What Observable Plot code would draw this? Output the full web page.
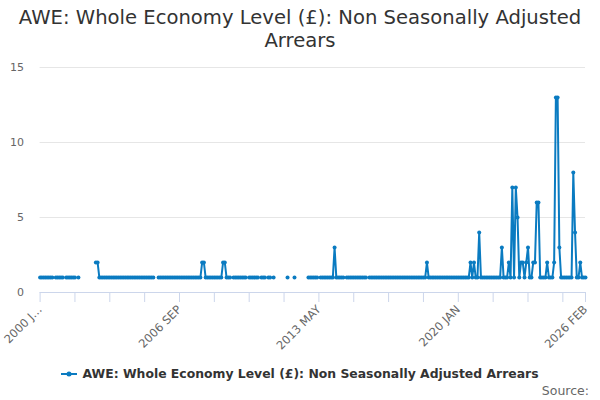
<!DOCTYPE html>
<html>
<head>
<meta charset="utf-8">
<script src="https://cdn.jsdelivr.net/npm/d3@7"></script>
<script src="https://cdn.jsdelivr.net/npm/@observablehq/plot@0.6"></script>
<style>
  body { margin: 0; background: #fff; }
  #wrap { position: relative; width: 600px; height: 400px; font-family: "DejaVu Sans", sans-serif; overflow: hidden; }
  #title { position: absolute; top: 6px; left: 0; width: 600px; text-align: center; font-size: 19.6px; line-height: 23px; color: #333; white-space: nowrap; }
  #chart { position: absolute; top: 58px; left: 0; }
  #legend { position: absolute; top: 366px; left: 0; width: 600px; display: flex; justify-content: center; align-items: center; font-size: 12.4px; font-weight: bold; color: #333; }
  #legend svg { margin-right: 5px; }
  #source { position: absolute; top: 383px; right: 11px; font-size: 12.5px; color: #666; }
</style>
</head>
<body>
<div id="wrap">
  <div id="title">AWE: Whole Economy Level (£): Non Seasonally Adjusted<br>Arrears</div>
  <div id="chart"></div>
  <div id="legend"><svg width="16" height="12"><line x1="0" y1="6" x2="16" y2="6" stroke="#0a7bc1" stroke-width="2"></line><circle cx="8" cy="6" r="2.5" fill="#0a7bc1"></circle></svg><span>AWE: Whole Economy Level (£): Non Seasonally Adjusted Arrears</span></div>
  <div id="source">Source:</div>
</div>
<script>
// Monthly values, 2000 JAN (index 0) to 2026 FEB (index 313); null = no data
const values = [
  1,1,1,1,1,1,1,1,null,1,1,1,1,1,null,1,1,1,1,1,
  1,null,1,null,null,null,null,null,null,null,null,null,2,2,1,1,1,1,1,1,
  1,1,1,1,1,1,1,1,1,1,1,1,1,1,1,1,1,1,1,1,
  1,1,1,1,1,1,null,null,1,1,1,1,1,1,1,1,1,1,1,1,
  1,1,1,1,1,1,1,1,1,1,1,1,1,2,2,1,1,1,1,1,
  1,1,1,1,1,2,2,1,1,1,null,1,1,1,1,1,1,1,1,null,
  1,1,1,1,1,1,null,1,1,1,null,1,1,null,1,null,null,null,null,null,
  null,null,1,null,null,null,1,null,null,null,null,null,null,null,1,1,1,1,1,1,
  null,1,1,1,1,1,1,1,1,3,1,1,1,1,1,null,1,1,1,1,
  1,1,1,1,1,1,1,1,null,1,1,1,1,1,1,1,1,1,1,1,
  1,1,1,1,1,1,1,1,1,1,1,1,1,1,1,1,1,1,1,1,
  1,1,2,1,1,1,1,1,1,1,1,1,1,1,1,1,1,1,1,1,
  1,1,1,1,1,1,1,2,1,2,1,1,4,1,1,1,1,1,1,1,
  1,1,1,1,1,3,1,1,1,2,1,7,1,7,5,1,2,2,1,2,
  3,1,1,2,2,6,6,1,1,1,1,2,1,1,1,2,13,13,3,1,
  1,1,1,1,1,1,8,4,1,1,2,1,1,1
];
const tickIdx = [0, 80, 160, 240, 313];
const tickLabels = ["2000 J…", "2006 SEP", "2013 MAY", "2020 JAN", "2026 FEB"];
const minorTicks = [0,20,40,60,80,100,120,140,160,180,200,220,240,260,280,300,313];
const yTicks = [0, 5, 10, 15];
const color = "#0a7bc1";

const data = values.map((v, i) => ({i, v}));
const labels = tickIdx.map((i, k) => ({i, label: tickLabels[k]}));

const chart = Plot.plot({
  width: 600,
  height: 297,
  marginTop: 9,
  marginBottom: 63,
  marginLeft: 39.6,
  marginRight: 15,
  x: {domain: [0, 313], axis: null},
  y: {domain: [0, 15], axis: null},
  style: {fontFamily: "DejaVu Sans", fontSize: "11px", color: "#666", background: "white"},
  marks: [
    Plot.gridY(yTicks.filter(d => d > 0), {stroke: "#e6e6e6", strokeOpacity: 1}),
    Plot.axisY(yTicks, {tickSize: 0, tickPadding: 16, fill: "#666", fontSize: 11, label: null}),
    Plot.axisX(minorTicks, {tickSize: 10, tickFormat: () => "", stroke: "#ccd6eb", strokeOpacity: 1, label: null}),
    Plot.ruleY([0], {stroke: "#ccd6eb"}),
    Plot.text(labels, {x: "i", y: () => 0, text: "label", rotate: -45, textAnchor: "end", lineAnchor: "middle", dy: 15, dx: 0, fill: "#666", fontSize: 11.5}),
    Plot.line(data, {x: "i", y: "v", stroke: color, strokeWidth: 2}),
    Plot.dot(data.filter(d => d.v != null), {x: "i", y: "v", r: 2, fill: color})
  ]
});
document.getElementById("chart").appendChild(chart);
</script>
</body>
</html>
